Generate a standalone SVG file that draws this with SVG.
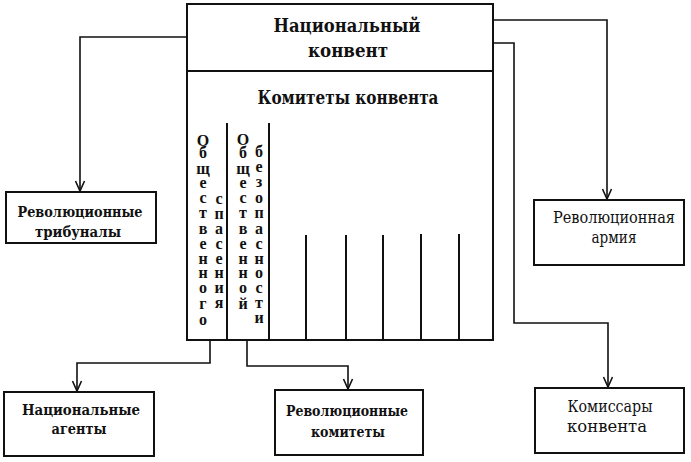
<svg xmlns="http://www.w3.org/2000/svg" width="691" height="462" viewBox="0 0 691 462">
<style>
.box{fill:#fff;stroke:#111;stroke-width:2}
.ln{fill:none;stroke:#111;stroke-width:1.6}
.div{fill:none;stroke:#111;stroke-width:2}
.t{font-family:"DejaVu Serif","Liberation Serif",serif;font-weight:bold;fill:#111;text-anchor:middle}
.lbl{font-size:15px}
.lt{font-weight:normal;font-size:16px}
.ttl{font-size:18.5px}
.v{font-family:"Liberation Serif",serif;font-size:16px}
</style>
<defs>
<marker id="arr" viewBox="-1 -6 12 12" refX="10" refY="0" markerWidth="12" markerHeight="12" markerUnits="userSpaceOnUse" orient="auto">
<path d="M0,-4.5 L10,0 L0,4.5" fill="none" stroke="#111" stroke-width="1.6"/>
</marker>
</defs>
<g id="connectors">
<path class="ln" d="M187,37 H80 V191" marker-end="url(#arr)"/>
<path class="ln" d="M493,20 H607 V199" marker-end="url(#arr)"/>
<path class="ln" d="M493,43 H514 V323 H608 V387" marker-end="url(#arr)"/>
<path class="ln" d="M210,340 V363 H77 V391" marker-end="url(#arr)"/>
<path class="ln" d="M247,340 V366 H348 V389" marker-end="url(#arr)"/>
</g>
<g id="convention">
<rect class="box" x="187" y="4" width="306" height="336"/>
<line class="div" x1="187" y1="71" x2="493" y2="71"/>
<text class="t ttl" x="347" y="32" textLength="147" lengthAdjust="spacingAndGlyphs">Национальный</text>
<text class="t ttl" x="348" y="57" textLength="80" lengthAdjust="spacingAndGlyphs">конвент</text>
<text class="t ttl" x="348" y="104" textLength="181" lengthAdjust="spacingAndGlyphs">Комитеты конвента</text>
<line class="div" x1="227" y1="123" x2="227" y2="340"/>
<line class="div" x1="269" y1="123" x2="269" y2="340"/>
<line class="div" x1="306" y1="235" x2="306" y2="340"/>
<line class="div" x1="346" y1="235" x2="346" y2="340"/>
<line class="div" x1="383" y1="235" x2="383" y2="340"/>
<line class="div" x1="421" y1="234" x2="421" y2="340"/>
<line class="div" x1="459" y1="234" x2="459" y2="340"/>
<text class="t v" x="203 203 203 203 203 203 203 203 203 203 203 203 203" y="146 158 174 188 203 218 234 249 264 278 293 309 325">Общественного</text>
<text class="t v" x="219 219 219 219 219 219 219 219" y="204 219 234 249 264 278 293 308">спасения</text>
<text class="t v" x="243 243 243 243 243 243 243 243 243 243 243 243" y="145 158 174 188 203 218 234 249 264 278 293 309">Общественной</text>
<text class="t v" x="259 259 259 259 259 259 259 259 259 259 259 259" y="157 172 187 203 218 234 249 264 278 293 308 323">безопасности</text>
</g>
<g id="tribunals">
<rect class="box" x="6" y="192" width="150" height="51"/>
<text class="t lbl" x="80" y="217" textLength="125" lengthAdjust="spacingAndGlyphs">Революционные</text>
<text class="t lbl" x="78" y="237" textLength="86" lengthAdjust="spacingAndGlyphs">трибуналы</text>
</g>
<g id="army">
<rect class="box" x="534" y="200" width="150" height="65"/>
<text class="t lbl lt" x="614" y="223" textLength="122" lengthAdjust="spacingAndGlyphs">Революционная</text>
<text class="t lbl lt" x="614" y="243" textLength="45" lengthAdjust="spacingAndGlyphs">армия</text>
</g>
<g id="agents">
<rect class="box" x="4" y="392" width="150" height="64"/>
<text class="t lbl" x="81" y="415" textLength="118" lengthAdjust="spacingAndGlyphs">Национальные</text>
<text class="t lbl" x="79" y="434" textLength="55" lengthAdjust="spacingAndGlyphs">агенты</text>
</g>
<g id="rev-committees">
<rect class="box" x="275" y="390" width="148" height="65"/>
<text class="t lbl" x="347" y="416" textLength="122" lengthAdjust="spacingAndGlyphs">Революционные</text>
<text class="t lbl" x="348" y="437" textLength="74" lengthAdjust="spacingAndGlyphs">комитеты</text>
</g>
<g id="commissars">
<rect class="box" x="535" y="388" width="149" height="65"/>
<text class="t lbl lt" x="610" y="412" textLength="85" lengthAdjust="spacingAndGlyphs">Комиссары</text>
<text class="t lbl lt" x="607" y="432" textLength="80" lengthAdjust="spacingAndGlyphs">конвента</text>
</g>
</svg>
